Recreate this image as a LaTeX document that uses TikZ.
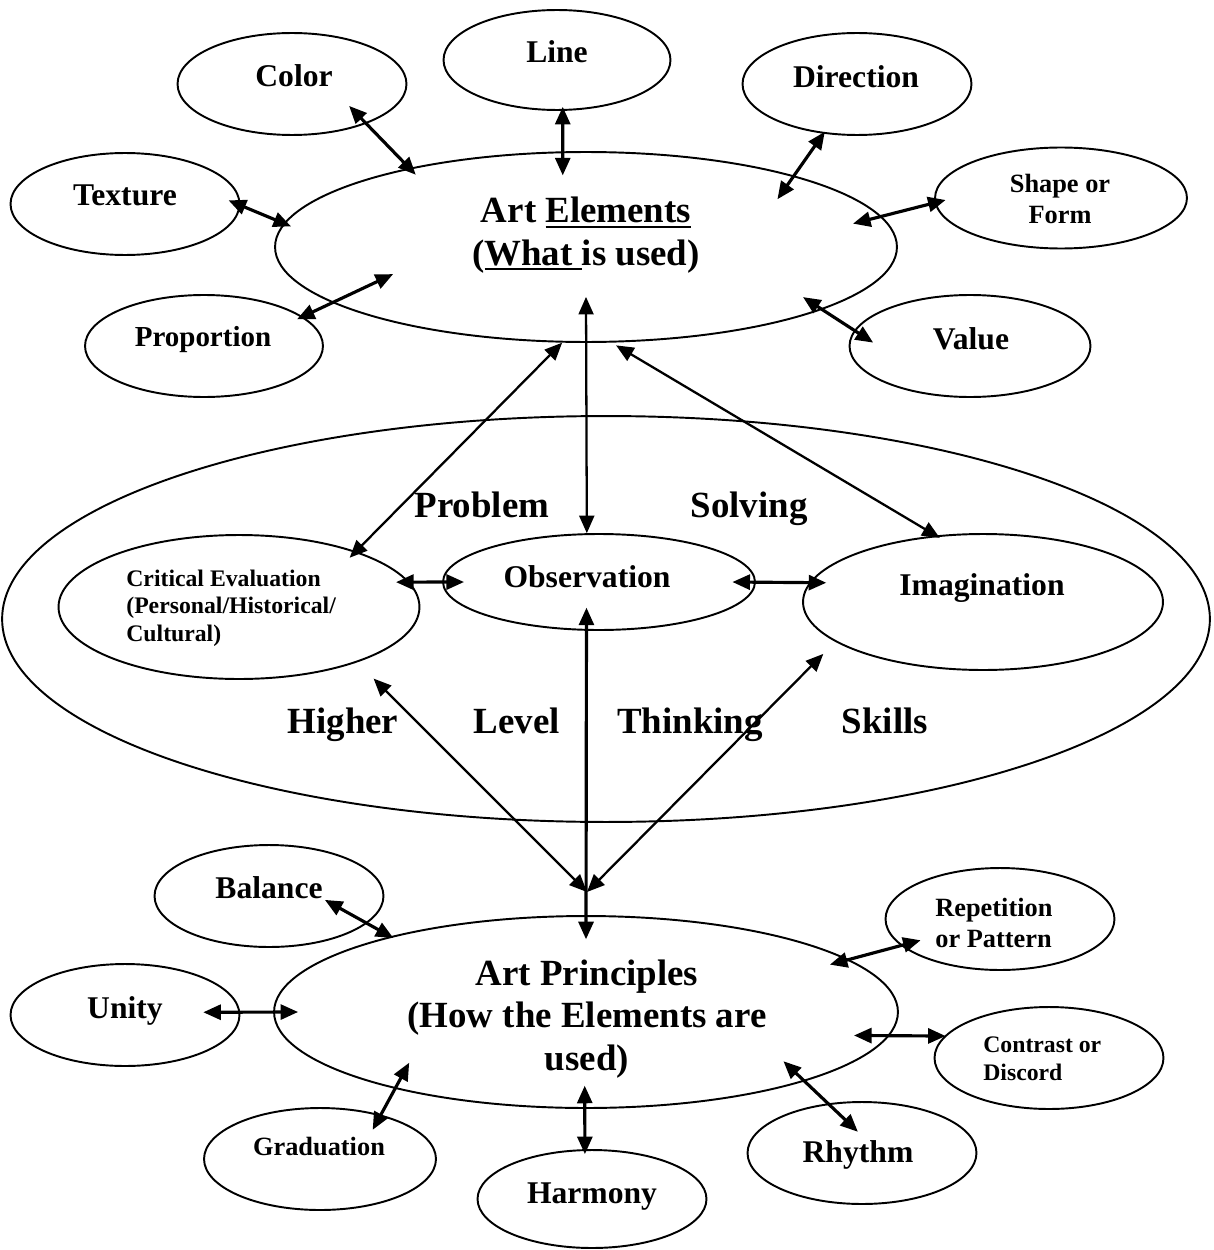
\documentclass[tikz,border=0pt]{standalone}
\usepackage{fontspec}
\setmainfont{Liberation Serif}
\usetikzlibrary{shapes.geometric,arrows.meta,calc}
\newcommand{\uln}[1]{\setbox0=\hbox{#1}\rlap{\rule[-3pt]{\wd0}{1.3pt}}\box0}
\tikzset{
  bub/.style 2 args={draw, ellipse, line width=1.1pt, minimum width=#1, minimum height=#2},
  leaf/.style={bub={4.58cm}{2.04cm}},
  word/.style={font=\bfseries\fontsize{18}{21}\selectfont, anchor=base},
  title/.style={word, font=\bfseries\fontsize{21}{24}\selectfont, align=center},
  wordmid/.style={word, font=\bfseries\fontsize{15}{17.5}\selectfont},
  wordsm/.style={word, font=\bfseries\fontsize{13.5}{15.6}\selectfont},
  link/.style={{Triangle[length=10pt,width=8.5pt]}-{Triangle[length=10pt,width=8.5pt]}, line width=1.8pt},
  longlink/.style={link, line width=1.3pt}
}
\begin{document}
\begin{tikzpicture}[x=0.02cm,y=0.02cm]
\tikzstyle{every node}+=[inner sep=0pt]
\useasboundingbox (0,0) rectangle (1213,-1250);
\node[bub={24.16cm}{8.12cm}] (skills) at (606,-619) {};
\node[bub={12.44cm}{3.8cm}] (elem) at (586,-247) {};
\node[leaf] (color) at (292,-84) {};
\node[bub={4.54cm}{2cm}] (line) at (557,-60) {};
\node[leaf] (dir) at (857,-84) {};
\node[leaf] (tex) at (125,-204) {};
\node[bub={5.04cm}{2.02cm}] (shape) at (1061,-198) {};
\node[bub={4.76cm}{2.04cm}] (prop) at (204,-346) {};
\node[bub={4.82cm}{2.04cm}] (val) at (970,-346) {};
\node[bub={7.22cm}{2.88cm}] (crit) at (239,-607) {};
\node[bub={6.24cm}{1.92cm}] (obs) at (599,-582) {};
\node[bub={7.2cm}{2.72cm}] (imag) at (983,-602) {};
\node[bub={12.48cm}{3.84cm}] (prin) at (586,-1012) {};
\node[leaf] (bal) at (269,-896) {};
\node[leaf] (rep) at (1000,-919) {};
\node[leaf] (unity) at (125,-1015) {};
\node[leaf] (contr) at (1049,-1058) {};
\node[bub={4.64cm}{2.04cm}] (grad) at (320,-1159) {};
\node[bub={4.58cm}{1.96cm}] (harm) at (592,-1199) {};
\node[leaf] (rhy) at (862,-1153) {};
\coordinate (hub) at (587,-892);
\draw[link] ($(color)!.65!(color.-21)$) -- ($(elem)!.93!(elem.157)$);
\draw[link] ($(line)!.92!(line.-83)$) -- ($(elem)!.75!(elem.108)$);
\draw[link] ($(dir)!.96!(dir.-124)$) -- ($(elem)!.79!(elem.14)$);
\draw[link] ($(tex)!.9!(tex.2)$) -- ($(elem)!.97!(elem.176)$);
\draw[link] ($(shape)!.91!(shape.-179)$) -- ($(elem)!.89!(elem.5)$);
\draw[link] ($(prop)!.93!(prop.16)$) -- ($(elem)!.68!(elem.-172)$);
\draw[link] ($(val)!.8!(val.178)$) -- ($(elem)!.87!(elem.-13)$);
\draw[longlink] (elem.-104) -- ($(crit)!.91!(crit.24)$);
\draw[longlink] ($(elem)!.52!(elem.-90)$) -- (obs.104);
\draw[longlink] ($(elem)!1.03!(elem.-73)$) -- ($(imag)!.96!(imag.124)$);
\draw[link] ($(crit)!.93!(crit.9)$) -- ($(obs)!.86!(obs.180)$);
\draw[link] ($(obs)!.85!(obs.0)$) -- ($(imag)!.91!(imag.173)$);
\draw[longlink] ($(crit)!1.23!(crit.-28)$) -- (hub);
\draw[link] ($(obs)!.53!(obs.-116)$) -- ($(prin)!.75!(prin.90)$);
\draw[longlink] ($(imag)!1.16!(imag.-162)$) -- (hub);
\draw[link] ($(bal)!.49!(bal.-4)$) -- ($(prin)!.98!(prin.159)$);
\draw[link] ($(rep)!.8!(rep.-165)$) -- ($(prin)!.92!(prin.11)$);
\draw[link] ($(unity)!.68!(unity.2)$) -- ($(prin)!.92!(prin.180)$);
\draw[link] ($(contr)!.99!(contr.168)$) -- ($(prin)!.89!(prin.-5)$);
\draw[link] ($(grad)!.72!(grad.29)$) -- ($(prin)!.77!(prin.-164)$);
\draw[link] ($(harm)!.9!(harm.99)$) -- ($(prin)!.76!(prin.-91)$);
\draw[link] ($(rhy)!.41!(rhy.101)$) -- ($(prin)!.81!(prin.-14)$);
\node[word] (colorT) at (294,-87) {Color};
\node[word] (lineT) at (557,-63) {Line};
\node[word] (dirT) at (856,-88) {Direction};
\node[word] (texT) at (125,-206) {Texture};
\node[wordmid, align=center] (shapeT) at (1060,-223) {Shape or\\Form};
\node[word, font=\bfseries\fontsize{16.5}{19}\selectfont] (propT) at (203,-346) {Proportion};
\node[word] (valT) at (971,-349) {Value};
\node[title] (elemT) at (586,-265) {Art \uln{Elements}\\(\uln{What\ }is used)};
\node[title] (probT) at (482,-517) {Problem};
\node[title] (solvT) at (749,-517) {Solving};
\node[wordsm, anchor=base west, align=left] (critT) at (126,-641) {Critical Evaluation\\(Personal/Historical/\\Cultural)};
\node[word] (obsT) at (587,-587) {Observation};
\node[word] (imagT) at (982,-595) {Imagination};
\node[title] (highT) at (343,-733) {Higher};
\node[title] (levT) at (517,-733) {Level};
\node[title] (thinkT) at (690,-733) {Thinking};
\node[title] (skillT) at (885,-733) {Skills};
\node[word] (balT) at (269,-898) {Balance};
\node[wordmid, anchor=base west, align=left] (repT) at (935,-947) {Repetition\\or Pattern};
\node[title] (prinT) at (587,-1070) {Art Principles\\(How the Elements are\\used)};
\node[word] (unityT) at (125,-1018) {Unity};
\node[wordsm, anchor=base west, align=left] (contrT) at (983,-1080) {Contrast or\\Discord};
\node[wordmid] (gradT) at (319,-1155) {Graduation};
\node[word] (harmT) at (592,-1203) {Harmony};
\node[word] (rhyT) at (858,-1162) {Rhythm};
\end{tikzpicture}
\end{document}
